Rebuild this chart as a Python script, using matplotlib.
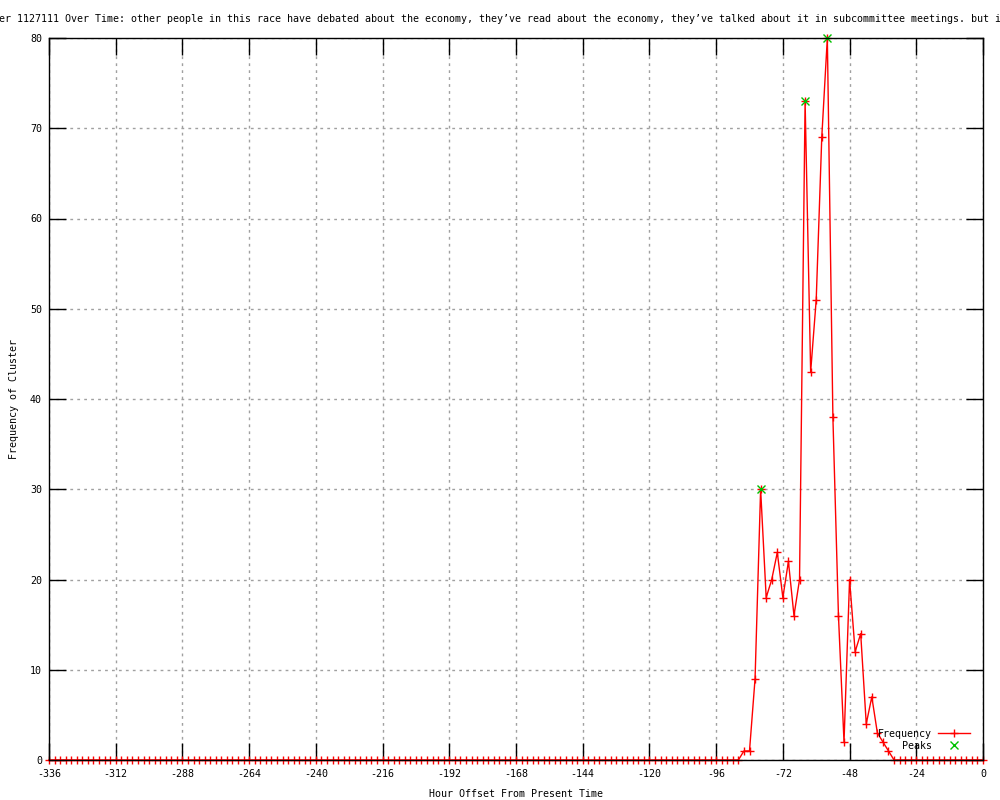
import numpy as np
import matplotlib
matplotlib.use("Agg")
import matplotlib.pyplot as plt

# hourly bins (every 2 h) from two weeks ago up to now
hours = np.arange(-336, 1, 2)
freq = [0] * 125 + [1, 1, 9, 30, 18, 20, 23, 18, 22, 16, 20, 73, 43, 51,
                    69, 80, 38, 16, 2, 20, 12, 14, 4, 7, 3, 2, 1, 0] + [0] * 16
peak_hours = [-80, -64, -56]
peak_freq = [30, 73, 80]

title = ("er 1127111 Over Time: other people in this race have debated about the economy, "
         "they\u2019ve read about the economy, they\u2019ve talked about it in subcommittee meetings. but i")
xticks = list(range(-336, 1, 24))
yticks = list(range(0, 81, 10))

plt.rcParams["font.family"] = ["DejaVu Sans Mono"]
plt.rcParams["font.size"] = 7.2
plt.rcParams["axes.unicode_minus"] = False

fig = plt.figure(figsize=(10, 8), dpi=100)
ax = fig.add_axes([0.049, 0.05, 0.934, 0.9025])

ax.plot(hours, freq, color="red", lw=1, marker="+", ms=6, mew=1,
        label="Frequency", clip_on=False, zorder=3)
ax.plot(peak_hours, peak_freq, ls="none", color="#00c000", marker="x", ms=6, mew=1,
        label="Peaks", clip_on=False, zorder=4)

ax.set_xlim(-336, 0)
ax.set_ylim(0, 80)
ax.set_xticks(xticks)
ax.set_yticks(yticks)
ax.tick_params(direction="in", length=12, width=1, top=True, right=True, color="black")
ax.tick_params(axis="x", pad=6.5)
ax.tick_params(axis="y", pad=5)
ax.grid(True, color="#a0a0a0", ls=(0, (2, 3)), lw=1)
for s in ax.spines.values():
    s.set_linewidth(1)
    s.set_zorder(5)

ax.set_xlabel("Hour Offset From Present Time", labelpad=7)
ax.set_ylabel("Frequency of Cluster", labelpad=8)

fig.text(0.5, 0.976, title, ha="center", va="center")

ax.legend(loc="lower right", bbox_to_anchor=(0.9936, 0.003), frameon=False,
          markerfirst=False, handlelength=3.2, handletextpad=0.6, labelspacing=0.2,
          borderaxespad=0.3, fontsize=7.2)

fig.savefig("out.png", dpi=100)
